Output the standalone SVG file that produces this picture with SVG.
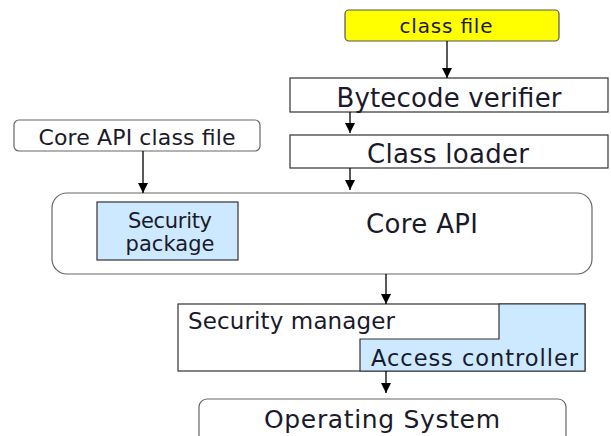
<svg xmlns="http://www.w3.org/2000/svg" width="611" height="436" viewBox="0 0 611 436">
<defs>
<marker id="arr" viewBox="0 0 10 10" refX="10" refY="5" markerWidth="10" markerHeight="10" markerUnits="userSpaceOnUse" orient="auto">
<path d="M0,0 L10,5 L0,10 Z" fill="#000"/>
</marker>
<style>
text{font-family:"DejaVu Sans","Liberation Sans",sans-serif;fill:#1a1a2a}
.box{fill:#fff;stroke:#333;stroke-width:1.2}
.rbox{fill:#fff;stroke:#666;stroke-width:1.2}
.blue{fill:#cce9ff;stroke:#333;stroke-width:1.2}
.conn line{stroke:#000;stroke-width:1.3;marker-end:url(#arr)}
</style>
</defs>
<rect width="611" height="436" fill="#fff"/>
<g id="classfile">
<rect x="345" y="10" width="214" height="31" rx="4" fill="#ffff00" stroke="#555" stroke-width="1.2"/>
<text x="446" y="33" font-size="20" text-anchor="middle" textLength="93">class file</text>
</g>
<g id="bytecode">
<rect class="box" x="290" y="78" width="318" height="34"/>
<text x="449" y="107" font-size="26" text-anchor="middle" textLength="225">Bytecode verifier</text>
</g>
<g id="classloader">
<rect class="box" x="290" y="135" width="318" height="33"/>
<text x="448" y="163" font-size="26" text-anchor="middle" textLength="162">Class loader</text>
</g>
<g id="coreapifile">
<rect class="rbox" x="14" y="120" width="246" height="31" rx="5"/>
<text x="137" y="145" font-size="22" text-anchor="middle" textLength="197">Core API class file</text>
</g>
<g id="coreapi">
<rect class="rbox" x="52" y="193" width="540" height="81" rx="15"/>
<text x="422" y="233" font-size="26" text-anchor="middle" textLength="112">Core API</text>
</g>
<g id="securitypackage">
<rect class="blue" x="97" y="202" width="141" height="58"/>
<text x="170" y="228" font-size="21" text-anchor="middle" textLength="84">Security</text>
<text x="170" y="251" font-size="21" text-anchor="middle" textLength="89">package</text>
</g>
<g id="securitymanager">
<rect class="box" x="178" y="304" width="407" height="67"/>
<path d="M360,371 L360,339 L499,339 L499,304 L585,304 L585,371 Z" fill="#cce9ff" stroke="#333" stroke-width="1.2"/>
<text x="188" y="329" font-size="23" textLength="207">Security manager</text>
</g>
<g id="accesscontroller">
<text x="371" y="366" font-size="22.5" textLength="207">Access controller</text>
</g>
<g id="os">
<rect class="rbox" x="199" y="399" width="367" height="50" rx="8"/>
<text x="382" y="428" font-size="25" text-anchor="middle" textLength="236">Operating System</text>
</g>
<g class="conn" id="connectors">
<line x1="447" y1="41" x2="447" y2="78"/>
<line x1="350" y1="112" x2="350" y2="133"/>
<line x1="350" y1="168" x2="350" y2="190"/>
<line x1="143" y1="151" x2="143" y2="193"/>
<line x1="386" y1="274" x2="386" y2="304"/>
<line x1="386" y1="371" x2="386" y2="393"/>
</g>
</svg>
